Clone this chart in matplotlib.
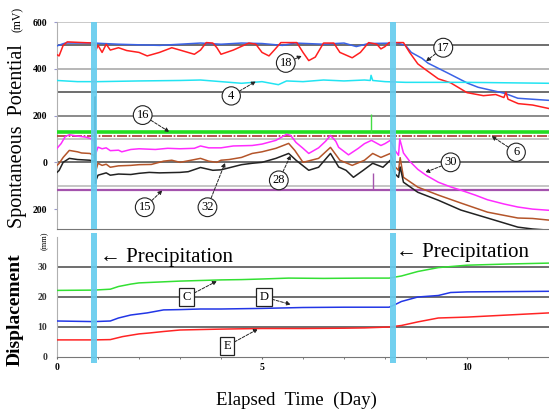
import matplotlib
matplotlib.use("Agg")
import matplotlib.pyplot as plt

plt.rcParams['font.family'] = ['Liberation Serif', 'DejaVu Serif']

# ---------------- data: spontaneous potential (mV) ----------------
d17 = [0, 0.2, 0.9, 1.5, 2.5, 3.0, 3.5, 4.0, 4.5, 5.0, 5.5, 5.8, 6.5, 7.0, 7.3, 7.6, 8.3,
       8.5, 8.64, 8.9, 9.05, 9.54, 10.02, 10.27, 10.92, 11.24, 12]
v17 = [498, 510, 510, 505, 500, 505, 510, 505, 510, 508, 500, 510, 505, 510, 495, 508, 510,
       500, 470, 445, 424, 381, 338, 321, 295, 274, 265]

d18 = [0, 0.05, 0.15, 0.25, 0.5, 0.9, 0.95, 1.0, 1.1, 1.2, 1.3, 1.5, 1.7, 2.0, 2.2, 2.5, 2.8,
       3.0, 3.35, 3.5, 3.64, 3.8, 3.9, 4.0, 4.3, 4.68, 4.85, 5.0, 5.17, 5.3, 5.46, 5.85, 6.0,
       6.14, 6.3, 6.5, 6.75, 6.9, 7.2, 7.4, 7.6, 7.8, 7.9, 8.0, 8.1, 8.45, 8.6, 8.8, 9.0, 9.3,
       9.6, 10.0, 10.4, 10.7, 10.9, 10.95, 11.0, 11.25, 11.6, 12]
v18 = [460, 455, 500, 515, 513, 510, 480, 500, 470, 505, 480, 490, 478, 470, 455, 470, 490,
       480, 462, 480, 512, 510, 490, 462, 480, 510, 505, 470, 455, 480, 512, 512, 470,
       435, 450, 510, 510, 470, 447, 470, 512, 505, 485, 495, 512, 512, 470, 421, 395, 357,
       340, 298, 285, 290, 277, 300, 270, 251, 245, 230]

d4 = [0, 0.5, 1, 2, 3, 3.5, 4.0, 4.5, 5.0, 5.4, 5.6, 6, 6.5, 7, 7.5, 7.64, 7.66, 7.7, 8,
      8.5, 9, 10, 11, 12]
v4 = [350, 345, 345, 348, 350, 352, 345, 338, 345, 332, 348, 345, 352, 348, 352, 350, 372, 350, 345,
      342, 342, 342, 340, 338]

d16 = [0, 12]
v16 = [128, 128]
d16_spike = 7.66
v16_spike = 205

d6 = [0, 12]
v6 = [112, 112]

d15 = [0, 12]
v15 = [-120, -120]
d15_spike = 7.7
v15_spike = -45

d30 = [0, 0.1, 0.2, 0.3, 0.5, 0.7, 0.85, 0.9, 0.95, 1.0, 1.1, 1.2, 1.3, 1.5, 1.58, 1.8, 2.0,
       2.4, 2.7, 3.0, 3.35, 3.5, 3.7, 4.0, 4.3, 4.76, 5.0, 5.34, 5.6, 5.7, 5.83, 6.0, 6.14,
       6.38, 6.55, 6.67, 6.8, 6.87, 7.11, 7.35, 7.5, 7.67, 7.9, 8.0, 8.13, 8.25, 8.33, 8.36,
       8.45, 8.6, 8.8, 9.0, 9.3, 9.6, 9.85, 10.2, 10.5, 10.9, 11.24, 11.6, 12]
v30 = [60, 80, 110, 118, 112, 108, 100, 90, 40, 65, 58, 62, 50, 52, 45, 55, 58,
       55, 60, 58, 60, 70, 62, 62, 70, 72, 78, 94, 120, 115, 85, 60, 38,
       62, 90, 115, 90, 64, 32, 60, 80, 94, 72, 80, 94, 50, 30, 100,
       40, 5, -30, -55, -85, -105, -119, -140, -160, -178, -191, -200, -205]

d32 = [0, 0.05, 0.15, 0.3, 0.5, 0.6, 0.8, 0.9, 0.95, 1.0, 1.1, 1.2, 1.3, 1.5, 1.8, 2.0, 2.3,
       2.6, 2.8, 3.0, 3.3, 3.5, 3.7, 3.9, 4.0, 4.2, 4.5, 4.76, 5.0, 5.34, 5.65, 5.8, 6.0,
       6.38, 6.67, 6.9, 7.2, 7.5, 7.7, 7.9, 8.13, 8.25, 8.33, 8.37, 8.45, 8.8, 9.3, 9.85,
       10.5, 11.24, 11.6, 12]
v32 = [-13, -5, 21, 51, 45, 40, 38, 30, -34, -4, -13, -8, -21, -15, -13, -10, -9,
       5, 9, 0, 10, 17, 5, 0, 9, 12, 21, 38, 45, 60, 81, 51, 0,
       17, 64, 9, -13, 9, 38, 21, 38, -20, -34, 20, -64, -106, -140, -174,
       -213, -238, -240, -247]

d28 = [0, 0.05, 0.15, 0.3, 0.5, 0.8, 0.9, 0.92, 0.93, 0.94, 0.95, 1.0, 1.1, 1.2, 1.3, 1.5,
       1.8, 2.0, 2.25, 2.5, 3.0, 3.2, 3.5, 3.8, 4.0, 4.5, 4.76, 5.0, 5.34, 5.65, 5.83, 6.14,
       6.38, 6.67, 6.87, 7.05, 7.23, 7.47, 7.7, 7.95, 8.13, 8.25, 8.33, 8.37, 8.45, 8.8, 9.3,
       9.85, 10.5, 11.24, 11.6, 12]
v28 = [-43, -35, 0, 17, 12, 9, 5, 5, 280, -90, -77, -55, -50, -45, -55, -50,
       -52, -47, -43, -45, -43, -40, -22, -34, -32, -10, -4, 0, 17, 38, 9, -34,
       -21, 38, -20, -34, -64, -34, -4, -21, 9, -50, -64, -20, -85, -128, -162,
       -204, -238, -277, -285, -290]

# ---------------- data: displacement (mm) ----------------
dC = [0, 0.9, 1.3, 1.5, 1.8, 2.0, 2.5, 3.0, 3.5, 4.0, 4.5, 5.0, 5.65, 6.5, 7.5, 8.1, 8.4, 8.8,
      9.3, 10.0, 11, 12]
vC = [22.2, 22.3, 22.6, 23.5, 24.3, 24.7, 25.0, 25.3, 25.5, 25.7, 25.8, 26.0, 26.3, 26.2, 26.3,
      26.3, 27.0, 28.5, 29.8, 30.6, 31.0, 31.3]

dD = [0, 0.9, 1.3, 1.5, 1.8, 2.2, 2.6, 3.0, 3.5, 4.0, 5.0, 6, 7, 8.1, 8.25, 8.4, 8.8, 9.3,
      9.6, 10.0, 11, 12]
vD = [12.0, 11.8, 12.0, 13.0, 14.0, 14.7, 15.7, 15.8, 16.0, 16.0, 16.2, 16.5, 16.6, 16.6,
      17.5, 18.5, 20.0, 20.5, 21.5, 21.7, 21.8, 21.9]

dE = [0, 0.9, 1.3, 1.6, 2.0, 2.25, 2.6, 3.0, 4.0, 5.0, 6.0, 7.0, 7.5, 8.1, 8.4, 8.8, 9.3,
      10.0, 11, 12]
vE = [5.7, 5.7, 5.8, 6.8, 7.7, 8.0, 8.5, 9.0, 9.3, 9.5, 9.5, 9.6, 9.7, 10.0, 10.5, 11.7,
      13.0, 13.3, 14.0, 14.7]

rain_days = [0.9, 8.2]

sp_ticks = [600, 400, 200, 0, -200]
sp_ticklabels = ['600', '400', '200', '0', '200']
disp_ticks = [0, 10, 20, 30]
x_ticks = [0, 5, 10]

# ---------------- figure ----------------
fig = plt.figure(figsize=(5.49, 4.12), dpi=100)
ax1 = fig.add_axes([57 / 549, 183 / 412, 492 / 549, 207 / 412])
ax2 = fig.add_axes([57 / 549, 55 / 412, 492 / 549, 120 / 412])

for ax in (ax1, ax2):
    ax.set_xlim(0, 12)
    for s in ('top', 'right'):
        ax.spines[s].set_visible(False)
    ax.spines['left'].set_color('#b0b0b0')
    ax.spines['bottom'].set_color('#777777')

ax1.set_ylim(-285, 600)
ax2.set_ylim(0, 40)

# grid lines top
for yv, c in [(600, '#c0c0c0'), (500, '#555555'), (400, '#aaaaaa'), (300, '#555555'),
              (200, '#777777'), (100, '#bbbbbb'), (0, '#555555'), (-100, '#bbbbbb')]:
    ax1.axhline(yv, color=c, lw=1.2, zorder=1)
for yv in (10, 20, 30):
    ax2.axhline(yv, color='#555555', lw=1.2, zorder=1)

lw = 1.1
ax1.plot(d17, v17, color='#3a62e6', lw=lw, zorder=3)
ax1.plot(d18, v18, color='#ff1f1f', lw=lw, zorder=3)
ax1.plot(d4, v4, color='#22e4f2', lw=lw, zorder=3)
ax1.plot(d16, v16, color='#22dd22', lw=2.6, zorder=3)
ax1.vlines(d16_spike, v16[0], v16_spike, color='#44dd44', lw=1.0, zorder=3)
ax1.plot(d6, v6, color='#a83a30', lw=1.2, ls=(0, (6, 1, 1, 1)), zorder=3)
ax1.plot(d15, v15, color='#a453ad', lw=1.6, zorder=3)
ax1.vlines(d15_spike, v15[0], v15_spike, color='#a453ad', lw=1.0, zorder=3)
ax1.plot(d30, v30, color='#ff2cff', lw=lw, zorder=3)
ax1.plot(d32, v32, color='#b4552a', lw=lw, zorder=3)
ax1.plot(d28, v28, color='#222222', lw=lw, zorder=3)

ax2.plot(dC, vC, color='#33e033', lw=lw, zorder=3)
ax2.plot(dD, vD, color='#2236e6', lw=lw, zorder=3)
ax2.plot(dE, vE, color='#ff2424', lw=lw, zorder=3)

# precipitation bars
for r in rain_days:
    ax1.axvspan(r - 0.075, r + 0.075, ymin=0, ymax=1, color='#66ccee', alpha=0.92,
                lw=0, zorder=5)
    ax2.axvspan(r - 0.075, r + 0.075, ymin=-0.05, ymax=1.03, color='#66ccee', alpha=0.92,
                lw=0, zorder=5, clip_on=False)

# ticks
ax1.set_xticks([])
ax1.set_yticks(sp_ticks)
ax1.set_yticklabels(sp_ticklabels, fontsize=7, fontweight='bold')
ax1.tick_params(axis='y', length=2, color='#9999cc', pad=5)

ax2.set_yticks(disp_ticks)
ax2.set_yticklabels([str(t) for t in disp_ticks], fontsize=7, fontweight='bold', color='#333333')
ax2.tick_params(axis='y', length=0, pad=7)
ax2.set_xticks(x_ticks)
ax2.set_xticklabels([str(t) for t in x_ticks], fontsize=7, fontweight='bold')
ax2.set_xticks(range(0, 13), minor=True)
ax2.tick_params(axis='x', which='both', length=1.5, color='#666666', pad=3)

# axis labels
fig.text(18 / 549, 1 - 136 / 412, 'Spontaneous  Potential', rotation=90, fontsize=14.5,
         ha='center', va='center')
fig.text(18 / 549, 1 - 19 / 412, '(mV)', rotation=90, fontsize=8.5, ha='center', va='center')
fig.text(15 / 549, 1 - 310 / 412, 'Displacement', rotation=90, fontsize=14,
         fontweight='bold', ha='center', va='center')
fig.text(45 / 549, 1 - 241 / 412, '(mm)', rotation=90, fontsize=6, ha='center', va='center')
fig.text(296 / 549, 1 - 400 / 412, 'Elapsed  Time  (Day)', fontsize=13.5, ha='center',
         va='center')

# precipitation labels
ax2.text(1.04, 33.3, '\u2190 Precipitation', fontsize=15, ha='left', va='center', zorder=6)
ax2.text(8.28, 34.7, '\u2190 Precipitation', fontsize=15, ha='left', va='center', zorder=6)

# circled labels
circ = dict(boxstyle='circle,pad=0.25', fc='white', ec='#222222', lw=0.8)
arrow = dict(arrowstyle='-|>', lw=0.7, color='#222222', ls=(0, (3, 1.5)), mutation_scale=6,
             shrinkA=0, shrinkB=0)
labels_top = [('17', (9.0, 432), (9.42, 490)),
              ('18', (5.97, 455), (5.58, 425)),
              ('4', (4.85, 346), (4.25, 284)),
              ('16', (2.74, 130), (2.09, 202)),
              ('6', (10.6, 112), (11.2, 43)),
              ('30', (8.98, -43), (9.6, 0)),
              ('28', (5.7, 30), (5.41, -77)),
              ('15', (2.57, -120), (2.14, -192)),
              ('32', (4.1, -2), (3.67, -192))]
for t, xy, xyt in labels_top:
    ax1.annotate(t, xy=xy, xytext=xyt, fontsize=9, ha='center', va='center', bbox=circ,
                 arrowprops=arrow, zorder=7)

box = dict(boxstyle='square,pad=0.25', fc='white', ec='#222222', lw=0.9)
labels_bot = [('C', (3.9, 25.3), (3.16, 20)),
              ('D', (5.7, 17.5), (5.05, 20)),
              ('E', (4.9, 9.3), (4.15, 3.7))]
for t, xy, xyt in labels_bot:
    ax2.annotate(t, xy=xy, xytext=xyt, fontsize=9, ha='center', va='center', bbox=box,
                 arrowprops=arrow, zorder=7)

fig.savefig('out.png', dpi=100)
